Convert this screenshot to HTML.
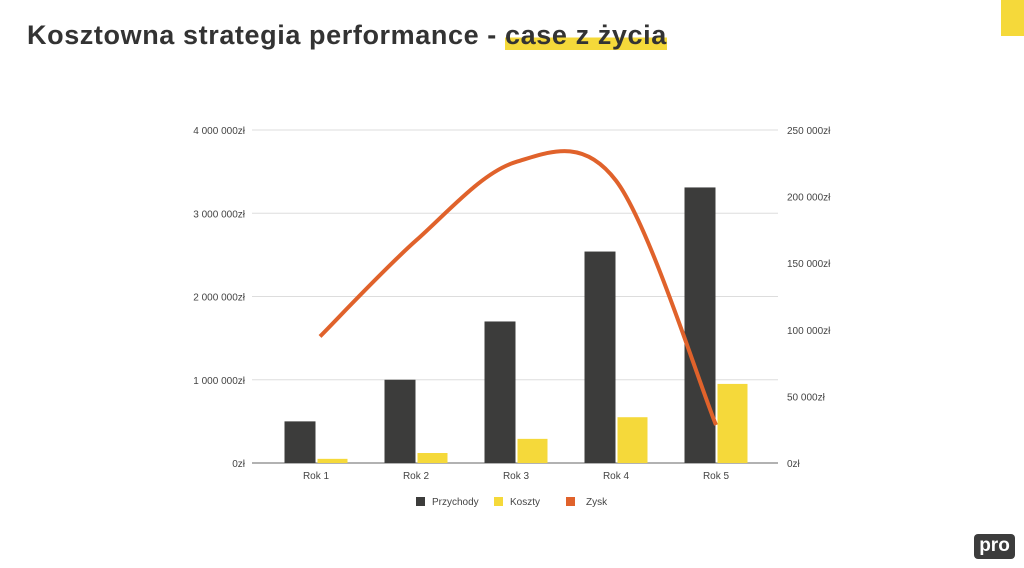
<!DOCTYPE html>
<html><head><meta charset="utf-8"><style>
body{margin:0;width:1024px;height:568px;background:#fff;position:relative;overflow:hidden;font-family:"Liberation Sans",sans-serif}
#title{position:absolute;left:27px;top:20px;font-size:27px;font-weight:bold;color:#333;letter-spacing:0.6px;white-space:nowrap}
#title span{background:linear-gradient(transparent 58%,#f5d93a 58%)}
#corner{position:absolute;left:1001px;top:0;width:23px;height:36px;background:#f5d93a}
#logo{position:absolute;left:974px;top:534px;width:41px;height:25px;background:#3c3c3c;border-radius:4px;color:#fff;font-weight:bold;font-size:19px;text-align:center;line-height:23px}
svg{position:absolute;left:0;top:0}
</style></head><body>
<div id="title">Kosztowna strategia performance - <span>case z życia</span></div>
<div id="corner"></div>
<div id="logo">pro</div>
<svg id="chart" width="1024" height="568"></svg>
<script>
const categories=["Rok 1","Rok 2","Rok 3","Rok 4","Rok 5"];
const przychody=[500000,1000000,1700000,2540000,3310000];
const koszty=[50000,120000,290000,550000,950000];
const zysk=[95000,167000,226000,212000,28500];
const leftTicks=[0,1000000,2000000,3000000,4000000];
const leftLabels=["0zł","1 000 000zł","2 000 000zł","3 000 000zł","4 000 000zł"];
const rightTicks=[0,50000,100000,150000,200000,250000];
const rightLabels=["0zł","50 000zł","100 000zł","150 000zł","200 000zł","250 000zł"];

const svg=document.getElementById('chart');const NS='http://www.w3.org/2000/svg';
const X0=266,BW=100,Y0=463,Y1=130;
const yL=v=>Y0-(v/4000000)*(Y0-Y1);
const yR=v=>Y0-(v/250000)*(Y0-Y1);
const xc=i=>X0+BW*(i+0.5);
function mk(t,a,txt){const e=document.createElementNS(NS,t);for(const k in a)e.setAttribute(k,a[k]);if(txt!=null)e.textContent=txt;svg.appendChild(e);return e;}
leftTicks.forEach((v,i)=>{
 const l=mk('line',{x1:252,x2:778,y1:yL(v),y2:yL(v),stroke:i==0?'#999':'#ddd','stroke-width':i==0?1.5:1});
 
 
 const t=mk('text',{x:245,y:yL(v)+4,'text-anchor':'end','font-size':10,fill:'#444'},leftLabels[i]);
 
 
});
rightTicks.forEach((v,i)=>{
 const t=mk('text',{x:787,y:yR(v)+4,'font-size':10,fill:'#444'},rightLabels[i]);
 
 
});
categories.forEach((c,i)=>{
 const b=mk('rect',{x:xc(i)-31.5,y:yL(przychody[i]),width:31,height:Y0-yL(przychody[i]),fill:'#3c3c3b'});
 
 
 const k=mk('rect',{x:xc(i)+1.5,y:yL(koszty[i]),width:30,height:Y0-yL(koszty[i]),fill:'#f5d93a'});
 
 
 const t=mk('text',{x:xc(i),y:479,'text-anchor':'middle','font-size':10,fill:'#444'},c);
 
 
});
const pts=zysk.map((v,i)=>[xc(i)+4*(i==0),yR(v)]);
let d='M'+pts[0][0]+','+pts[0][1];
for(let i=0;i<pts.length-1;i++){
 const p0=pts[Math.max(0,i-1)],p1=pts[i],p2=pts[i+1],p3=pts[Math.min(pts.length-1,i+2)];
 const c1=[p1[0]+(p2[0]-p0[0])/6,p1[1]+(p2[1]-p0[1])/6],c2=[p2[0]-(p3[0]-p1[0])/6,p2[1]-(p3[1]-p1[1])/6];
 d+=` C${c1[0]},${c1[1]} ${c2[0]},${c2[1]} ${p2[0]},${p2[1]}`;
}
const line=mk('path',{d:d,fill:'none',stroke:'#e0622b','stroke-width':4});


const leg=[["Przychody",'#3c3c3b',416],["Koszty",'#f5d93a',494],["Zysk",'#e0622b',566]];
leg.forEach(l=>{
 const r=mk('rect',{x:l[2],y:497,width:9,height:9,fill:l[1]});
 
 
 const t=mk('text',{x:l[2]+(l[0]=="Zysk"?20:16),y:505,'font-size':10,fill:'#444'},l[0]);
 
 
});
</script>
</body></html>
